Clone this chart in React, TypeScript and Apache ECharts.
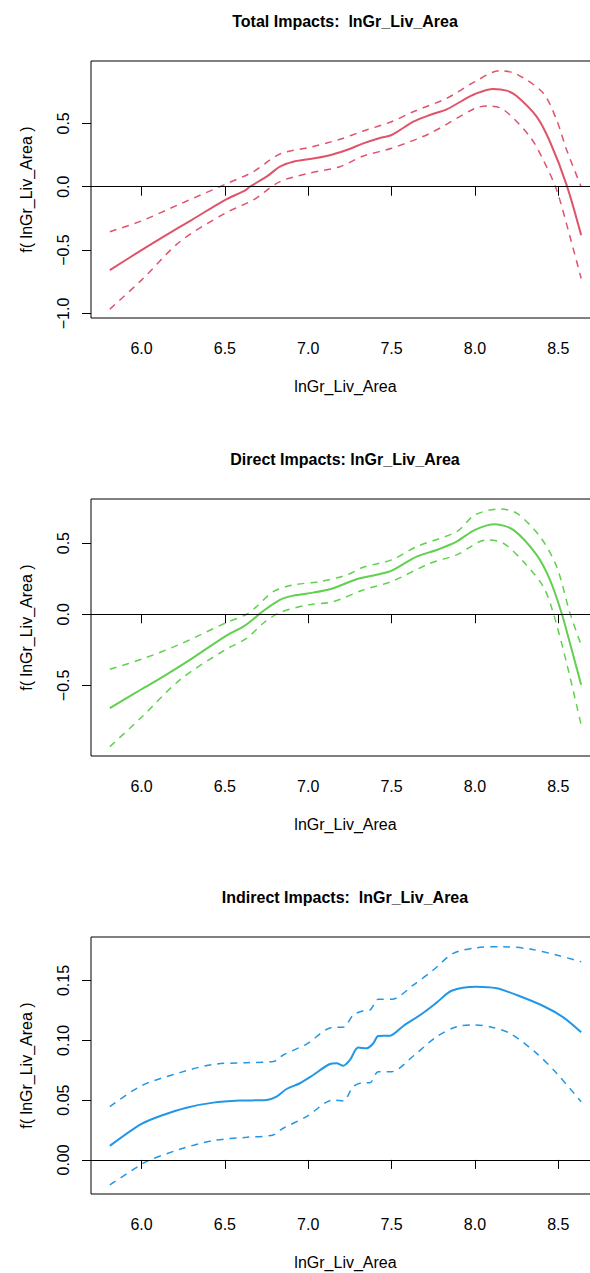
import React, { useEffect, useRef } from "react";
import * as echarts from "echarts";

// ---------- axes ----------
const X_MIN = 5.697;
const X_MAX = 8.75;
const xTicks = [6.0, 6.5, 7.0, 7.5, 8.0, 8.5];
const yTicksTotal = [-1.0, -0.5, 0.0, 0.5];
const yTicksDirect = [-0.5, 0.0, 0.5];
const yTicksIndirect = [0.0, 0.05, 0.1, 0.15];

// ---------- Total impacts ----------
const totalFitX = [5.81, 6.0, 6.13, 6.3, 6.5, 6.62, 6.65, 6.75, 6.83, 6.91, 7.0, 7.11, 7.23, 7.33, 7.43, 7.5, 7.63, 7.73, 7.83, 7.93, 8.0, 8.11, 8.19, 8.25, 8.37, 8.45, 8.55, 8.637];
const totalFit = [-0.658, -0.5, -0.395, -0.263, -0.105, -0.03, 0.0, 0.079, 0.158, 0.197, 0.216, 0.242, 0.29, 0.342, 0.385, 0.408, 0.513, 0.566, 0.61, 0.684, 0.732, 0.771, 0.758, 0.716, 0.553, 0.355, 0.013, -0.382];
const totalUpX = [5.81, 6.0, 6.23, 6.5, 6.67, 6.83, 7.0, 7.19, 7.33, 7.5, 7.63, 7.83, 8.0, 8.15, 8.25, 8.41, 8.49, 8.55, 8.637];
const totalUp = [-0.355, -0.27, -0.137, 0.018, 0.118, 0.258, 0.308, 0.374, 0.44, 0.513, 0.592, 0.697, 0.829, 0.916, 0.889, 0.737, 0.526, 0.29, 0.0];
const totalLoX = [5.81, 6.0, 6.23, 6.5, 6.67, 6.83, 7.0, 7.19, 7.33, 7.5, 7.73, 8.0, 8.08, 8.17, 8.33, 8.41, 8.49, 8.57, 8.637];
const totalLo = [-0.966, -0.737, -0.434, -0.21, -0.105, 0.04, 0.105, 0.158, 0.242, 0.303, 0.421, 0.618, 0.637, 0.61, 0.395, 0.21, -0.026, -0.395, -0.724];

// ---------- Direct impacts ----------
const directFitX = [5.81, 6.0, 6.13, 6.29, 6.5, 6.61, 6.67, 6.72, 6.83, 6.91, 7.03, 7.15, 7.29, 7.43, 7.5, 7.65, 7.77, 7.89, 8.0, 8.12, 8.23, 8.37, 8.45, 8.52, 8.57, 8.637];
const directFit = [-0.66, -0.527, -0.438, -0.321, -0.157, -0.087, -0.035, 0.014, 0.101, 0.131, 0.152, 0.183, 0.246, 0.283, 0.307, 0.405, 0.452, 0.511, 0.593, 0.632, 0.593, 0.417, 0.241, 0.007, -0.204, -0.496];
const directUpX = [5.81, 6.0, 6.23, 6.5, 6.63, 6.69, 6.79, 6.91, 7.07, 7.23, 7.33, 7.5, 7.65, 7.89, 8.0, 8.15, 8.25, 8.39, 8.49, 8.57, 8.637];
const directUp = [-0.386, -0.316, -0.211, -0.063, 0.0, 0.054, 0.159, 0.206, 0.23, 0.276, 0.33, 0.382, 0.475, 0.581, 0.698, 0.74, 0.71, 0.546, 0.335, 0.007, -0.215];
const directLoX = [5.81, 6.0, 6.23, 6.5, 6.63, 6.73, 6.83, 7.0, 7.15, 7.33, 7.5, 7.73, 7.89, 8.07, 8.17, 8.29, 8.41, 8.47, 8.55, 8.637];
const directLo = [-0.93, -0.724, -0.461, -0.251, -0.169, -0.063, 0.012, 0.066, 0.089, 0.171, 0.23, 0.358, 0.417, 0.522, 0.499, 0.37, 0.194, 0.007, -0.344, -0.778];

// ---------- Indirect impacts ----------
const indirectFitX = [5.81, 6.0, 6.13, 6.27, 6.43, 6.59, 6.75, 6.81, 6.87, 6.95, 7.03, 7.13, 7.17, 7.21, 7.25, 7.3, 7.35, 7.39, 7.42, 7.49, 7.57, 7.68, 7.77, 7.86, 8.01, 8.13, 8.25, 8.41, 8.53, 8.637];
const indirectFit = [0.0117, 0.0301, 0.0376, 0.0437, 0.0479, 0.0496, 0.0501, 0.0529, 0.0593, 0.0641, 0.071, 0.0802, 0.0808, 0.0788, 0.0836, 0.0939, 0.0933, 0.0975, 0.1036, 0.1039, 0.112, 0.122, 0.1315, 0.1415, 0.1448, 0.1435, 0.1379, 0.1287, 0.1192, 0.1067];
const indirectUpX = [5.81, 6.0, 6.23, 6.43, 6.63, 6.79, 6.85, 6.99, 7.15, 7.21, 7.27, 7.33, 7.37, 7.42, 7.5, 7.63, 7.75, 7.87, 8.01, 8.17, 8.33, 8.49, 8.637];
const indirectUp = [0.0446, 0.0621, 0.073, 0.0799, 0.0813, 0.0822, 0.0877, 0.0969, 0.1109, 0.1109, 0.1212, 0.1248, 0.1253, 0.1343, 0.1343, 0.1462, 0.1588, 0.1727, 0.1774, 0.1783, 0.1763, 0.1713, 0.1657];
const indirectLoX = [5.81, 6.0, 6.05, 6.23, 6.43, 6.63, 6.79, 6.85, 6.99, 7.15, 7.21, 7.27, 7.33, 7.37, 7.42, 7.5, 7.63, 7.77, 7.89, 7.99, 8.09, 8.21, 8.37, 8.49, 8.637];
const indirectLo = [-0.0209, -0.0036, 0.0, 0.0089, 0.0162, 0.0189, 0.0209, 0.0265, 0.0362, 0.0501, 0.0493, 0.0613, 0.0646, 0.0646, 0.0738, 0.0738, 0.0869, 0.1031, 0.1114, 0.1128, 0.1114, 0.1058, 0.0891, 0.0724, 0.0487];

const titles = ["Total Impacts:  lnGr_Liv_Area", "Direct Impacts: lnGr_Liv_Area", "Indirect Impacts:  lnGr_Liv_Area"];
const xName = "lnGr_Liv_Area";
const yName = "f( lnGr_Liv_Area )";
const colors = ["#DF536B", "#61D04F", "#2297E6"];

const FONT = "'Liberation Sans', Arial, Helvetica, sans-serif";

const zip = (xs: number[], ys: number[]) => xs.map((x, i) => [x, ys[i]]);

export default function App() {
  const ref = useRef<HTMLDivElement>(null);
  useEffect(() => {
    if (!ref.current) return;
    const chart = echarts.init(ref.current, null, { renderer: "svg" });

    const panels = [
      { fit: zip(totalFitX, totalFit), up: zip(totalUpX, totalUp), lo: zip(totalLoX, totalLo), yMin: -1.036, yMax: 0.992, yTicks: yTicksTotal, dec: 1 },
      { fit: zip(directFitX, directFit), up: zip(directUpX, directUp), lo: zip(directLoX, directLo), yMin: -0.996, yMax: 0.81, yTicks: yTicksDirect, dec: 1 },
      { fit: zip(indirectFitX, indirectFit), up: zip(indirectUpX, indirectUp), lo: zip(indirectLoX, indirectLo), yMin: -0.0285, yMax: 0.1864, yTicks: yTicksIndirect, dec: 2 },
    ];
    const OFFSET = 438;
    const grids: any[] = [];
    const xAxes: any[] = [];
    const yAxes: any[] = [];
    const series: any[] = [];
    const graphics: any[] = [];

    panels.forEach((p, i) => {
      const off = i * OFFSET;
      grids.push({
        left: 91,
        top: 61 + off,
        width: 509,
        height: 257,
        show: true,
        borderColor: "#000",
        borderWidth: 1,
        backgroundColor: "transparent",
        containLabel: false,
      });
      xAxes.push({
        type: "value",
        gridIndex: i,
        min: X_MIN,
        max: X_MAX,
        name: xName,
        nameLocation: "middle",
        nameGap: 60,
        nameTextStyle: { fontFamily: FONT, fontSize: 16, color: "#000" },
        axisLine: { show: false },
        splitLine: { show: false },
        axisTick: { show: true, length: 9, lineStyle: { color: "#000", width: 1 }, customValues: xTicks },
        axisLabel: {
          show: true,
          margin: 22,
          fontFamily: FONT,
          fontSize: 16,
          color: "#000",
          customValues: xTicks,
          formatter: (v: number) => v.toFixed(1),
        },
      });
      yAxes.push({
        type: "value",
        gridIndex: i,
        min: p.yMin,
        max: p.yMax,
        name: yName,
        nameLocation: "middle",
        nameGap: 57,
        nameTextStyle: { fontFamily: FONT, fontSize: 16, color: "#000" },
        axisLine: { show: false },
        splitLine: { show: false },
        axisTick: { show: true, length: 9, lineStyle: { color: "#000", width: 1 }, customValues: p.yTicks },
        axisLabel: {
          show: true,
          rotate: 90,
          margin: 20,
          fontFamily: FONT,
          fontSize: 16,
          color: "#000",
          customValues: p.yTicks,
          formatter: (v: number) => (v < -1e-9 ? "\u2212" : "") + Math.abs(v).toFixed(p.dec),
        },
      });
      const c = colors[i];
      series.push({
        type: "line",
        xAxisIndex: i,
        yAxisIndex: i,
        data: p.up,
        showSymbol: false,
        symbol: "none",
        smooth: 0.3,
        lineStyle: { color: c, width: 1.5, type: [7, 6] },
        silent: true,
      });
      series.push({
        type: "line",
        xAxisIndex: i,
        yAxisIndex: i,
        data: p.lo,
        showSymbol: false,
        symbol: "none",
        smooth: 0.3,
        lineStyle: { color: c, width: 1.5, type: [7, 6] },
        silent: true,
      });
      series.push({
        type: "line",
        xAxisIndex: i,
        yAxisIndex: i,
        data: p.fit,
        showSymbol: false,
        symbol: "none",
        smooth: 0.3,
        lineStyle: { color: c, width: 2 },
        silent: true,
        markLine: {
          silent: true,
          symbol: ["none", "none"],
          label: { show: false },
          lineStyle: { color: "#000", width: 1, type: "solid" },
          data: [{ yAxis: 0 }],
        },
      });
      graphics.push({
        type: "text",
        x: 345,
        y: 21 + off,
        style: {
          text: titles[i],
          fontFamily: FONT,
          fontSize: 16,
          fontWeight: "bold",
          fill: "#000",
          textAlign: "center",
          textVerticalAlign: "middle",
        },
      });
    });

    chart.setOption({
      animation: false,
      backgroundColor: "#fff",
      grid: grids,
      xAxis: xAxes,
      yAxis: yAxes,
      series,
      graphic: graphics,
    });
    return () => chart.dispose();
  }, []);
  return (
    <div
      style={{ position: "absolute", left: 0, top: 0, width: 590, height: 1273, overflow: "hidden", background: "#fff" }}
    >
      <div ref={ref} style={{ width: 620, height: 1273 }} />
    </div>
  );
}
